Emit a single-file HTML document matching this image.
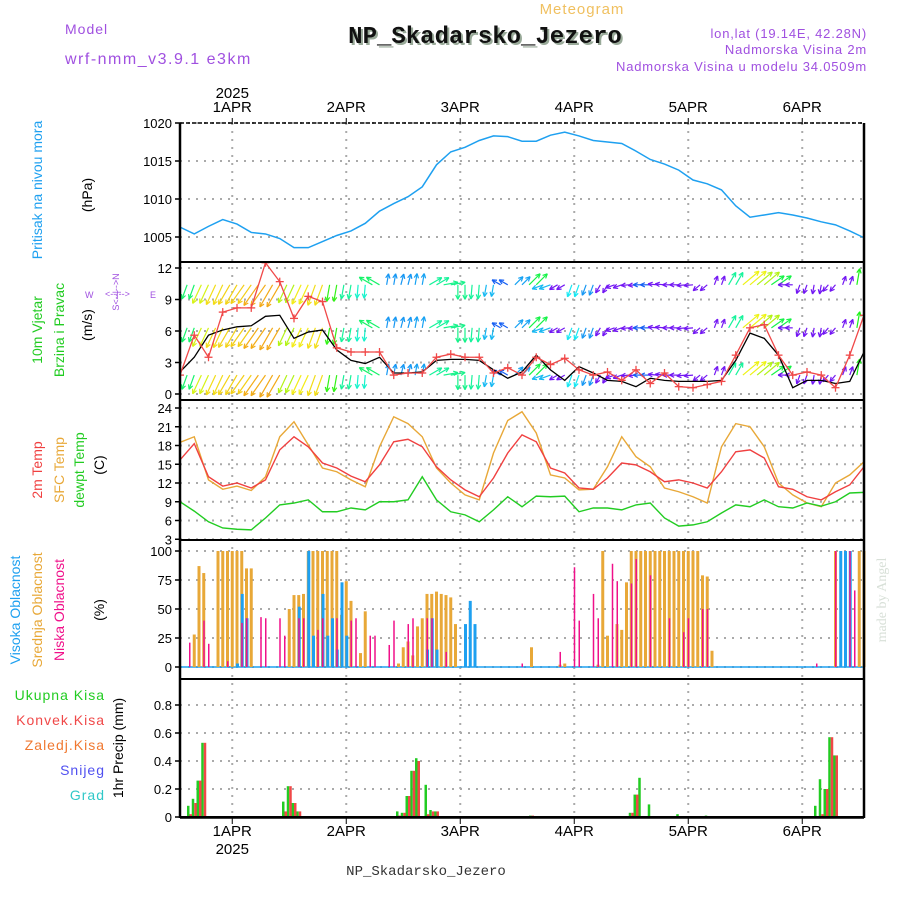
<!DOCTYPE html>
<html><head><meta charset="utf-8">
<style>
html,body{margin:0;padding:0;background:#fff;}
svg{display:block;font-family:"Liberation Sans",sans-serif;}
</style></head>
<body>
<svg id="chart" width="900" height="900" viewBox="0 0 900 900" xmlns="http://www.w3.org/2000/svg">
<rect width="900" height="900" fill="#fff"/>
<text x="582" y="14" font-size="15" fill="#f0c060" text-anchor="middle" letter-spacing="1">Meteogram</text>
<text x="65" y="34" font-size="14" fill="#a050e0" letter-spacing="1">Model</text>
<text x="65" y="64" font-size="16" fill="#a050e0" letter-spacing="1.5">wrf-nmm_v3.9.1 e3km</text>
<text x="487" y="45" font-family="Liberation Mono,monospace" font-weight="bold" font-size="24" fill="#99aa99" text-anchor="middle">NP_Skadarsko_Jezero</text>
<text x="485" y="43" font-family="Liberation Mono,monospace" font-weight="bold" font-size="24" fill="#111" text-anchor="middle">NP_Skadarsko_Jezero</text>
<text x="867" y="38" font-size="13" fill="#a050e0" text-anchor="end" letter-spacing="0.8">lon,lat (19.14E, 42.28N)</text>
<text x="867" y="54" font-size="13" fill="#a050e0" text-anchor="end" letter-spacing="0.8">Nadmorska Visina 2m</text>
<text x="867" y="71" font-size="13" fill="#a050e0" text-anchor="end" letter-spacing="0.8">Nadmorska Visina u modelu 34.0509m</text>

<text transform="translate(42,190) rotate(-90)" font-size="14" fill="#1ea0f0" text-anchor="middle">Pritisak na nivou mora</text>
<text transform="translate(92,195) rotate(-90)" font-size="14" fill="#000" text-anchor="middle">(hPa)</text>
<text transform="translate(42,330) rotate(-90)" font-size="14" fill="#22cc22" text-anchor="middle">10m Vjetar</text>
<text transform="translate(64,330) rotate(-90)" font-size="14" fill="#22cc22" text-anchor="middle">Brzina i Pravac</text>
<text transform="translate(92,325) rotate(-90)" font-size="14" fill="#000" text-anchor="middle">(m/s)</text>
<g fill="#a050e0" font-size="9">
<text x="85" y="298">W</text><text x="150" y="298">E</text>
<text transform="translate(119,292) rotate(-90)" text-anchor="middle">S&lt;--|--&gt;N</text>
<text x="105" y="297">&lt;--|--&gt;</text>
</g>
<text transform="translate(42,470) rotate(-90)" font-size="14" fill="#f04040" text-anchor="middle">2m Temp</text>
<text transform="translate(64,470) rotate(-90)" font-size="14" fill="#e8a838" text-anchor="middle">SFC Temp</text>
<text transform="translate(84,470) rotate(-90)" font-size="14" fill="#22cc22" text-anchor="middle">dewpt Temp</text>
<text transform="translate(104,465) rotate(-90)" font-size="14" fill="#000" text-anchor="middle">(C)</text>
<text transform="translate(20,610) rotate(-90)" font-size="14" fill="#1ea0f0" text-anchor="middle">Visoka Oblacnost</text>
<text transform="translate(42,610) rotate(-90)" font-size="14" fill="#e8a838" text-anchor="middle">Srednja Oblacnost</text>
<text transform="translate(64,610) rotate(-90)" font-size="14" fill="#f0108a" text-anchor="middle">Niska Oblacnost</text>
<text transform="translate(104,610) rotate(-90)" font-size="14" fill="#000" text-anchor="middle">(%)</text>
<g font-size="14" text-anchor="end" letter-spacing="1">
<text x="105" y="700" fill="#22cc22">Ukupna Kisa</text>
<text x="105" y="725" fill="#f04848">Konvek.Kisa</text>
<text x="105" y="750" fill="#f07830">Zaledj.Kisa</text>
<text x="105" y="775" fill="#5050f0">Snijeg</text>
<text x="105" y="800" fill="#30c8c8">Grad</text>
</g>
<text transform="translate(123,748) rotate(-90)" font-size="14" fill="#000" text-anchor="middle">1hr Precip (mm)</text>
<text transform="translate(886,600) rotate(-90)" font-family="Liberation Serif,serif" font-size="14" fill="#d8e0d8" text-anchor="middle">made by Angel</text>
<text x="426" y="875" font-family="Liberation Mono,monospace" font-size="14" fill="#333" text-anchor="middle">NP_Skadarsko_Jezero</text>
<defs><clipPath id="windClip"><rect x="180" y="262" width="684" height="138"/></clipPath>
<clipPath id="tempClip"><rect x="180" y="400" width="684" height="140"/></clipPath></defs>
<g id="layer"></g>
</svg>
<script>
// ---- data ----
const dayLabels = ["1APR","2APR","3APR","4APR","5APR","6APR"];
const dayHours = [11,35,59,83,107,131];
const pressTicks = [1005,1010,1015,1020];
const windTicks = [0,3,6,9,12];
const tempTicks = [3,6,9,12,15,18,21,24];
const cloudTicks = [0,25,50,75,100];
const precipTicks = [0.2,0.4,0.6,0.8];
const pressure = [1006.3,1005.4,1006.4,1007.3,1006.7,1005.6,1005.4,1004.8,1003.6,1003.6,1004.4,1005.2,1005.8,1006.8,1008.4,1009.4,1010.3,1011.6,1014.5,1016.2,1016.8,1017.7,1018.3,1018.2,1017.6,1017.6,1018.4,1018.8,1018.3,1017.7,1017.5,1017.3,1016.3,1015.2,1014.6,1013.8,1012.5,1012,1011.2,1009.1,1007.6,1007.9,1008.2,1007.9,1007.5,1007,1006.6,1005.8,1004.9];
const temp2m = [15.7,18.3,13,11.5,12,11.2,12.5,17.3,19.4,17.8,15.2,14.4,13.1,12.2,14.9,18.6,19,17.8,14.6,12.5,10.9,9.8,12.8,16.8,19.7,18.6,14.4,13.6,11.2,11,12.8,15.2,14.9,13.8,12.2,12.5,12,11.2,13.8,17,17.3,16,11.4,11,9.8,9.3,10.6,11.7,14.6];
const tempSfc = [18.5,19.4,12.5,11,11.5,10.8,13,19.4,21.8,18.1,14.4,13.8,12.5,11.4,17.8,22.6,21.5,19.4,14.4,12,10.1,9.3,16.8,22,23.4,20,13.3,12.8,10.9,11,14.6,19.4,16.2,14.6,11.2,10.6,9.8,8.8,17.8,21.5,21,17.8,12,10.1,8.8,8.2,12,13.3,15.4];
const dewpt = [9,7.5,5.8,4.8,4.6,4.5,6.4,8.5,8.8,9.3,7.4,7.4,8,7.7,9,9,9.3,13,9.3,7.4,6.9,5.8,7.7,9.8,8.2,9.9,9.8,9.9,7.4,8,8,7.7,8.5,8.8,6.4,5.1,5.3,5.8,7.2,8.5,8.2,9.3,8.2,8,8.8,8.3,9,10.4,10.5];
const windSpd = [2.1,3.5,5.6,6.1,6.4,6.5,7.4,7.5,5.3,5.9,6.1,4.2,3.2,2.9,3.5,2,2,2.1,3.2,3.3,3.3,3.2,2.3,1.5,2.1,3.7,2.3,1.3,2.6,2,1.3,1.2,0.7,1.5,1.3,1.2,1.2,1.2,1.3,3.2,5.8,5.3,3.7,0.6,1.3,1.3,1,1.2,4];
const windGust = [1.8,5.6,3.5,7.8,8.2,8.2,12.5,10.7,7.2,9.3,8.8,4.4,4,4,4,1.8,2,2,3.5,3.8,3.5,3.5,2,2.5,1.8,3.5,2.8,3.4,2.3,1.8,2.1,1.3,2.3,1,2,0.7,0.6,0.9,1.2,3.7,6.3,6.6,3.7,1.8,2.1,1.8,0.6,3.7,7.5];
const windDir = [330,200,205,205,210,215,215,210,205,205,200,190,190,185,300,10,15,10,60,80,180,185,190,300,45,45,250,240,200,200,210,250,265,270,275,270,265,230,20,30,50,50,55,270,200,190,220,20,10];
const windRowLevels = [10.4,6.3,1.8];
const cloudMidH = [3,4,5,8,9,10,11,12,13,14,15,23,24,25,26,27,28,29,30,31,32,33,34,35,36,38,39,46,47,48,49,50,51,52,53,54,55,56,57,58,74,80,81,88,89,90,92,93,94,95,96,97,98,99,100,101,102,103,104,105,106,107,108,109,110,111,112,138,143,144];
const cloudMidV = [28,87,81,100,100,100,100,100,100,85,85,50,62,62,63,100,100,100,100,100,100,100,45,74,57,12,48,3,17,22,10,35,42,63,63,65,63,62,60,37,17,2,3,2,100,27,37,32,73,100,100,100,100,100,100,100,100,100,100,100,100,100,100,100,79,78,14,100,100,100];
const cloudHighH = [12,13,14,25,27,28,30,31,32,33,34,35,52,53,54,60,61,62,139,140,141];
const cloudHighV = [3,63,42,52,100,27,63,27,42,15,73,27,15,42,15,37,57,37,100,100,100];
const cloudLowH = [2,5,6,10,13,14,17,18,21,22,25,26,29,30,33,36,37,40,41,44,45,48,49,52,53,56,72,80,83,84,87,88,91,92,95,96,99,103,106,107,110,111,134,138,141,142];
const cloudLowV = [21,40,20,5,38,42,43,42,42,27,42,42,32,42,42,40,42,27,27,19,40,37,42,42,42,13,3,13,86,40,63,42,89,74,72,93,79,42,30,42,50,50,3,100,100,66];
const precipH = [2,3,4,5,22,23,24,25,46,47,48,49,50,52,53,54,74,95,96,97,99,105,111,134,135,136,137,138];
const precipTotal = [0.08,0.13,0.26,0.53,0.11,0.22,0.1,0.04,0.04,0.03,0.15,0.33,0.42,0.23,0.05,0.04,0.01,0.03,0.16,0.28,0.09,0.02,0.01,0.08,0.27,0.2,0.57,0.44];
const precipConv = [0.02,0.1,0.26,0.53,0.04,0.22,0.1,0.04,0.01,0.03,0.15,0.33,0.4,0.02,0.04,0.04,0.01,0.03,0.16,0.0,0.0,0.0,0.0,0.0,0.02,0.2,0.57,0.44];

// ---- scales ----
const X0=180,X1=864,HPX=4.75;
const xh = h => X0 + h*HPX;
const xi = i => xh(i*3);
const yP = v => 123 + (1020-v)*7.6;
const yW = v => 394 - v*10.5;
const yT = v => 408 + (24-v)*6.25;
const yC = v => 667 - v*1.16;
const yR = v => 817 - v*140;

const NS="http://www.w3.org/2000/svg";
const layer=document.getElementById('layer');
function mk(tag,attrs,parent){const e=document.createElementNS(NS,tag);for(const k in attrs)e.setAttribute(k,attrs[k]);(parent||layer).appendChild(e);return e;}

// grid
const grid=mk('g',{stroke:'#aaa','stroke-width':2,'stroke-dasharray':'2,6'});


dayHours.forEach(h=>{mk('line',{x1:xh(h),x2:xh(h),y1:123,y2:818},grid);});
const hGrid=(ticks,f)=>ticks.forEach(t=>mk('line',{x1:X0,x2:X1,y1:f(t),y2:f(t)},grid));
hGrid(pressTicks,yP);hGrid(windTicks,yW);hGrid(tempTicks,yT);hGrid(cloudTicks,yC);hGrid(precipTicks,yR);

// tick labels
function yTicks(name,ticks,f,fmt){
  const g=mk('g',{'font-size':13,'font-family':'Liberation Sans,sans-serif','text-anchor':'end',fill:'#000'});
  
  
  ticks.forEach(t=>{const tx=mk('text',{x:172,y:f(t)+5},g);tx.textContent=fmt?fmt(t):t;
    mk('line',{x1:X0-5,x2:X0,y1:f(t),y2:f(t),stroke:'#000','stroke-width':1.5},g);});
}
yTicks('pressure-y-ticks',pressTicks,yP);
yTicks('wind-y-ticks',windTicks,yW);
yTicks('temp-y-ticks',tempTicks,yT);
yTicks('cloud-y-ticks',cloudTicks,yC);
yTicks('precip-y-ticks',[0].concat(precipTicks),yR,t=>t===0?'0':t.toFixed(1));

const xt=mk('g',{'font-size':15,'text-anchor':'middle',fill:'#000'});


dayLabels.forEach((d,i)=>{const x=xh(dayHours[i]);
  let t=mk('text',{x:x,y:112},xt);t.textContent=d;
  t=mk('text',{x:x,y:836},xt);t.textContent=d;
  mk('line',{x1:x,x2:x,y1:118,y2:124,stroke:'#000'},xt);
  mk('line',{x1:x,x2:x,y1:818,y2:824,stroke:'#000'},xt);});
let yr=mk('text',{x:xh(dayHours[0]),y:98},xt);yr.textContent='2025';
yr=mk('text',{x:xh(dayHours[0]),y:854},xt);yr.textContent='2025';

// pressure line
const pp=mk('polyline',{points:pressure.map((v,i)=>xi(i)+','+yP(v)).join(' '),fill:'none',stroke:'#1ea0f0','stroke-width':1.5});



// wind arrows (length and colour by speed)
const wg=mk('g',{'clip-path':'url(#windClip)'});


function hueForSpeed(s){
  if(s>=8.5)return 335;
  if(s>=6)return 30+(8.5-s)*10;      // orange -> yellow
  if(s>=4)return 55+(6-s)*32;        // yellow -> green
  if(s>=2.5)return 120+(4-s)*45;     // green -> cyan
  if(s>=1.5)return 190+(2.5-s)*30;   // cyan -> blue
  return 265;
}
windRowLevels.forEach(lv=>{
  for(let h=0;h<=144;h+=1.5){
    const k=Math.min(48,Math.round(h/3));
    const a=windDir[k]*Math.PI/180;
    const s=windSpd[k];
    const x=xh(h),y=yW(lv),L=6+s*2.6;
    const x2=x+Math.sin(a)*L,y2=y-Math.cos(a)*L;
    const col='hsl('+hueForSpeed(s)+',90%,52%)';
    mk('line',{x1:x,y1:y,x2:x2,y2:y2,stroke:col,'stroke-width':1.2},wg);
    const b=a+Math.PI;
    [0.45,-0.45].forEach(d=>mk('line',{x1:x2,y1:y2,x2:x2+Math.sin(b+d)*5,y2:y2-Math.cos(b+d)*5,stroke:col,'stroke-width':1.2},wg));
  }});
const sp=mk('polyline',{points:windSpd.map((v,i)=>xi(i)+','+yW(v)).join(' '),fill:'none',stroke:'#000','stroke-width':1.3,'clip-path':'url(#windClip)'});


const gg=mk('g',{'clip-path':'url(#windClip)',stroke:'#f04848','stroke-width':1.3,fill:'none'});


mk('polyline',{points:windGust.map((v,i)=>xi(i)+','+yW(v)).join(' ')},gg);
windGust.forEach((v,i)=>{const x=xi(i),y=yW(v);
  mk('line',{x1:x-4,x2:x+4,y1:y,y2:y},gg);mk('line',{x1:x,x2:x,y1:y-4,y2:y+4},gg);});

// temperature
[[tempSfc,'#e8a838','sfc-temp-line'],[temp2m,'#f04040','temp-2m-line'],[dewpt,'#22cc22','dewpoint-line']].forEach(([arr,c,n])=>{
  const l=mk('polyline',{points:arr.map((v,i)=>xi(i)+','+yT(v)).join(' '),fill:'none',stroke:c,'stroke-width':1.4,'clip-path':'url(#tempClip)'});
  
  
});

// clouds
mk('line',{x1:X0,x2:X1,y1:yC(0),y2:yC(0),stroke:'#1ea0f0','stroke-width':1.5});
function bars(name,H,V,c,w,off,f){
  const g=mk('g',{fill:c});
  
  
  H.forEach((h,i)=>{const y=f(V[i]);mk('rect',{x:xh(h)+off,y:y,width:w,height:Math.max(0,f(0)-y)},g);});
}
bars('cloud-mid-bars',cloudMidH,cloudMidV,'#e8a838',3,-1.5,yC);
bars('cloud-high-bars',cloudHighH,cloudHighV,'#1ea0f0',3,-1,yC);
bars('cloud-low-bars',cloudLowH,cloudLowV,'#f0108a',1.5,-0.5,yC);

// precip
bars('precip-total-bars',precipH,precipTotal,'#22cc22',2.5,-2.5,yR);
bars('precip-conv-bars',precipH,precipConv,'#f04848',2.5,0,yR);
mk('line',{x1:X0,x2:X1,y1:817,y2:817,stroke:'#000','stroke-width':2});

// frames
const fr=mk('g',{stroke:'#000',fill:'none'});


mk('line',{x1:X0,x2:X1,y1:123,y2:123,'stroke-width':1.5,'stroke-dasharray':'4,2'},fr);
[262,400,540,679].forEach(y=>mk('line',{x1:X0,x2:X1,y1:y,y2:y,'stroke-width':2},fr));
mk('line',{x1:X0,x2:X0,y1:123,y2:818,'stroke-width':2.5},fr);
mk('line',{x1:X1,x2:X1,y1:123,y2:818,'stroke-width':2.5},fr);
mk('line',{x1:X0,x2:X1,y1:818,y2:818,'stroke-width':1.5},fr);
</script>
</body></html>
